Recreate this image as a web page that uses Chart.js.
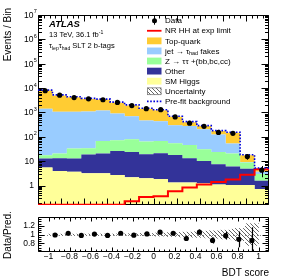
<!DOCTYPE html>
<html>
<head>
<meta charset="utf-8">
<script src="https://cdn.jsdelivr.net/npm/chart.js@4.4.1/dist/chart.umd.min.js"></script>
<style>
  html, body { margin: 0; padding: 0; background: #fff; }
  #wrap { position: relative; width: 291px; height: 279px; overflow: hidden; }
  #mainChart { position: absolute; left: 0; top: 0; }
  #ratioChart { position: absolute; left: 0; top: 209px; }
</style>
</head>
<body>
<div id="wrap">
  <canvas id="mainChart" width="291" height="209"></canvas>
  <canvas id="ratioChart" width="291" height="70"></canvas>
</div>
<script>
// ---- binning (BDT score) ----
const binEdges = [-1, -0.875, -0.75, -0.625, -0.5, -0.375, -0.25, -0.125, 0,
                  0.125, 0.25, 0.375, 0.5, 0.625, 0.75, 0.875, 1];

// ---- background components, events per bin ----
const smHiggs  = [5.5, 4.0, 3.7, 3.2, 3.2, 2.7, 2.2, 2.0, 1.85, 1.35, 1.35, 1.25, 1.1, 1.05, 1.05, 0.72];
const other    = [7.4, 9.2, 9.3, 15.5, 17.8, 23.3, 21.8, 17.4, 19.2, 16.7, 11.9, 9.0, 6.4, 5.0, 3.9, 0.85];
const zttHF    = [4.7, 7.8, 20, 15.3, 46, 46, 55, 44.6, 46, 36, 32.8, 20.7, 16.5, 14.5, 3.9, 1.4];
const jetFakes = [1400, 1040, 1030, 1055, 1130, 840, 630, 405, 373, 246, 231, 172, 102, 33, 0.5, 0.75];
const topQuark = [6480, 3940, 3140, 2510, 2200, 1590, 1240, 950, 790, 370, 123, 74, 47, 94, 8.2, 1.3];

// ---- other main-panel series ----
const dataValues = [7800, 5150, 4100, 3640, 3330, 2580, 1920, 1440, 1300, 660, 365, 270, 152, 140, 15.5, 4.3];
const dataErr    = [88, 72, 64, 60, 58, 51, 44, 38, 36, 26, 19, 16, 12, 12, 3.9, 2.1];
const prefitBkg  = [8300, 5300, 4400, 3800, 3550, 2650, 2050, 1500, 1300, 700, 420, 290, 180, 155, 18.5, 5.3];
// first bins sit below the axis range; the picture shows them on the floor
const hhLimit    = [0.165, 0.165, 0.165, 0.165, 0.165, 0.165, 0.23, 0.34, 0.37, 0.58, 0.84, 1.1, 1.4, 1.8, 2.8, 4.7];

// ---- ratio panel ----
const ratioValues = [0.99, 1.03, 0.98, 1.01, 0.98, 1.03, 0.985, 1.015, 1.055, 1.03, 0.91, 1.055, 0.865, 0.975, 0.89, 0.865];
const ratioErr    = [0.015, 0.015, 0.016, 0.017, 0.018, 0.02, 0.023, 0.027, 0.03, 0.04, 0.05, 0.062, 0.07, 0.09, 0.18, 0.3];
const bkgUnc      = [0.01, 0.01, 0.01, 0.012, 0.012, 0.015, 0.02, 0.025, 0.035, 0.045, 0.055, 0.065, 0.085, 0.1, 0.14, 0.25];
const ratioRef = 1;

// ---- axes ----
const xMin = -1, xMax = 1, xTickStep = 0.2;
const yMin = 0.16, yMax = 1e7;
const yLabelDecades = [0, 1, 2, 3, 4, 5, 6, 7];
const ratioMin = 0.6, ratioMax = 1.4;
const ratioTickLabels = [0.8, 1, 1.2];

const FONT = '"Liberation Sans", Arial, Helvetica, sans-serif';
const colHiggs = '#ffff99', colOther = '#333399', colZtt = '#99ff99', colFakes = '#99ccff', colTop = '#ffcc33';
const colHH = '#ff0000', colPrefit = '#0000dd';

const binCenters = binEdges.slice(0, -1).map((e, i) => (e + binEdges[i + 1]) / 2);

// histogram outline points on the bin edges (drawn stepped)
function histPoints(vals) {
  return binEdges.map((x, i) => ({ x, y: vals[Math.min(i, vals.length - 1)] }));
}

// cumulative stack, bottom first
const stackParts = [smHiggs, other, zttHF, jetFakes, topQuark];
const stackColors = [colHiggs, colOther, colZtt, colFakes, colTop];
let running = new Array(binCenters.length).fill(0);
const stackTops = stackParts.map(part => (running = running.map((r, i) => r + part[i])));
const hhIndex = stackParts.length;

function makeHatch(color) {
  const c = document.createElement('canvas');
  c.width = 4; c.height = 4;
  const g = c.getContext('2d');
  g.strokeStyle = color; g.lineWidth = 0.9;
  g.beginPath();
  g.moveTo(0, 0); g.lineTo(4, 4);
  g.moveTo(-1, 3); g.lineTo(1, 5);
  g.moveTo(3, -1); g.lineTo(5, 1);
  g.stroke();
  return g.createPattern(c, 'repeat');
}
const hatch = makeHatch('#555');

// rich text: parts with optional sub / sup
function drawRich(ctx, parts, x, y, size) {
  let cx = x;
  ctx.textAlign = 'left';
  for (const p of parts) {
    const s = (p.sub || p.sup) ? size * 0.68 : size;
    ctx.font = `${s}px ${FONT}`;
    const dy = p.sub ? size * 0.3 : p.sup ? -size * 0.38 : 0;
    ctx.fillText(p.t, cx, y + dy);
    cx += ctx.measureText(p.t).width;
  }
}

// frame with inward ticks on all four sides (ATLAS style)
function drawFrame(chart, o) {
  const { ctx, chartArea: a, scales: { x, y } } = chart;
  const L = Math.round(a.left) + 0.5, R = Math.round(a.right) - 0.5;
  const T = Math.round(a.top) + 0.5, B = Math.round(a.bottom) - 0.5;
  ctx.save();
  ctx.strokeStyle = '#000';
  ctx.lineWidth = 1;
  ctx.beginPath();
  ctx.rect(L, T, R - L, B - T);
  const nMinor = Math.round((x.max - x.min) / o.xMinor);
  for (let k = 0; k <= nMinor; k++) {
    const v = x.min + k * o.xMinor;
    const px = Math.min(Math.round(x.getPixelForValue(v)) + 0.5, R);
    const major = Math.abs(v / o.xMajor - Math.round(v / o.xMajor)) < 1e-6;
    const len = major ? o.xMajorLen : o.xMinorLen;
    ctx.moveTo(px, B); ctx.lineTo(px, B - len);
    ctx.moveTo(px, T); ctx.lineTo(px, T + len);
  }
  for (const t of o.yTicks(y)) {
    const py = Math.min(Math.round(y.getPixelForValue(t.v)) + 0.5, B);
    const len = t.major ? o.yMajorLen : o.yMinorLen;
    ctx.moveTo(L, py); ctx.lineTo(L + len, py);
    ctx.moveTo(R, py); ctx.lineTo(R - len, py);
  }
  ctx.stroke();
  ctx.restore();
}

function logTicks(y) {
  const out = [];
  for (let d = -1; d <= 7; d++) {
    for (let m = 1; m <= 9; m++) {
      const v = m * Math.pow(10, d);
      if (v >= y.min && v <= y.max * 1.0001) out.push({ v, major: m === 1 });
    }
  }
  return out;
}

function linTicks(step, majorStep) {
  return y => {
    const out = [];
    const n = Math.round((y.max - y.min) / step);
    for (let k = 0; k <= n; k++) {
      const v = y.min + k * step;
      out.push({ v, major: Math.abs(v / majorStep - Math.round(v / majorStep)) < 1e-6 });
    }
    return out;
  };
}

const legendEntries = [
  { kind: 'data', text: [{ t: 'Data' }] },
  { kind: 'line', color: colHH, text: [{ t: 'NR HH at exp limit' }] },
  { kind: 'box', color: colTop, text: [{ t: 'Top-quark' }] },
  { kind: 'box', color: colFakes, text: [{ t: 'jet \u2192 \u03c4' }, { t: 'had', sub: true }, { t: ' fakes' }] },
  { kind: 'box', color: colZtt, text: [{ t: 'Z \u2192 \u03c4\u03c4 +(bb,bc,cc)' }] },
  { kind: 'box', color: colOther, text: [{ t: 'Other' }] },
  { kind: 'box', color: colHiggs, text: [{ t: 'SM Higgs' }] },
  { kind: 'hatch', text: [{ t: 'Uncertainty' }] },
  { kind: 'dash', color: colPrefit, text: [{ t: 'Pre-fit background' }] }
];

const mainDecor = {
  id: 'mainDecor',
  // frame goes on top of the stack but under the line/marker datasets
  beforeDatasetDraw(chart, args) {
    if (args.index !== hhIndex) return;
    drawFrame(chart, {
      xMinor: 0.05, xMajor: xTickStep, xMajorLen: 6, xMinorLen: 3,
      yTicks: logTicks, yMajorLen: 7, yMinorLen: 3.5
    });
  },
  afterDatasetsDraw(chart) {
    const { ctx, scales: { x, y } } = chart;
    ctx.save();
    ctx.strokeStyle = '#000';
    ctx.lineWidth = 1;
    ctx.beginPath();
    binCenters.forEach((c, i) => {
      const px = Math.round(x.getPixelForValue(c)) + 0.5;
      ctx.moveTo(px, y.getPixelForValue(Math.max(dataValues[i] - dataErr[i], y.min)));
      ctx.lineTo(px, y.getPixelForValue(dataValues[i] + dataErr[i]));
    });
    ctx.stroke();
    ctx.restore();
  },
  afterDraw(chart) {
    const { ctx, scales: { y } } = chart;
    ctx.save();
    ctx.fillStyle = '#000';
    ctx.textBaseline = 'middle';

    // y tick labels: 1, 10, 10^2 ... 10^7
    for (const d of yLabelDecades) {
      const py = y.getPixelForValue(Math.pow(10, d)) + 0.5;
      if (d < 2) {
        ctx.font = `8.5px ${FONT}`;
        ctx.textAlign = 'right';
        ctx.fillText(d === 0 ? '1' : '10', 34, py);
      } else {
        ctx.font = `8.5px ${FONT}`;
        ctx.textAlign = 'right';
        ctx.fillText('10', 33.5, py);
        ctx.font = `5.5px ${FONT}`;
        ctx.textAlign = 'left';
        ctx.fillText(String(d), 33.8, py - 3.6);
      }
    }

    // y axis title
    ctx.save();
    ctx.translate(8.5, 8);
    ctx.rotate(-Math.PI / 2);
    ctx.font = `10px ${FONT}`;
    ctx.textAlign = 'right';
    ctx.fillText('Events / Bin', 0, 0);
    ctx.restore();

    // ATLAS label block
    ctx.textBaseline = 'alphabetic';
    ctx.textAlign = 'left';
    ctx.font = `italic bold 9.5px ${FONT}`;
    ctx.fillText('ATLAS', 49, 27.3);
    drawRich(ctx, [{ t: '13 TeV, 36.1 fb' }, { t: '-1', sup: true }], 49, 37.3, 7.5);
    drawRich(ctx, [{ t: '\u03c4' }, { t: 'lep', sub: true }, { t: '\u03c4' }, { t: 'had', sub: true },
                   { t: ' SLT 2 b-tags' }], 49, 48, 7.5);

    // legend
    const lx0 = 147, lx1 = 161.5, tx = 165;
    legendEntries.forEach((e, i) => {
      const ly = 20.7 + i * 10.08;
      ctx.save();
      if (e.kind === 'data') {
        ctx.strokeStyle = '#000'; ctx.lineWidth = 1;
        ctx.beginPath(); ctx.moveTo(154.5, ly - 4); ctx.lineTo(154.5, ly + 4); ctx.stroke();
        ctx.fillStyle = '#000';
        ctx.beginPath(); ctx.arc(154.5, ly, 2.5, 0, Math.PI * 2); ctx.fill();
      } else if (e.kind === 'line') {
        ctx.strokeStyle = e.color; ctx.lineWidth = 1.8;
        ctx.beginPath(); ctx.moveTo(lx0, ly); ctx.lineTo(lx1, ly); ctx.stroke();
      } else if (e.kind === 'box') {
        ctx.fillStyle = e.color;
        ctx.fillRect(lx0, ly - 3.4, lx1 - lx0, 6.8);
      } else if (e.kind === 'hatch') {
        ctx.fillStyle = hatch;
        ctx.fillRect(lx0, ly - 3.4, lx1 - lx0, 6.8);
        ctx.strokeStyle = '#777'; ctx.lineWidth = 0.8;
        ctx.strokeRect(lx0 + 0.5, ly - 3.4, lx1 - lx0 - 1, 6.8);
      } else if (e.kind === 'dash') {
        ctx.strokeStyle = e.color; ctx.lineWidth = 1.6; ctx.setLineDash([1.6, 1.6]);
        ctx.beginPath(); ctx.moveTo(lx0, ly); ctx.lineTo(lx1, ly); ctx.stroke();
      }
      ctx.restore();
      ctx.fillStyle = '#000';
      ctx.textBaseline = 'middle';
      drawRich(ctx, e.text, tx, ly + 0.5, 8);
    });
    ctx.restore();
  }
};

const stackDatasets = stackTops.map((top, k) => ({
  data: histPoints(top),
  stepped: 'before',
  fill: k === 0 ? 'start' : '-1',
  backgroundColor: stackColors[k],
  borderColor: 'rgba(0,0,0,0)',
  borderWidth: 0,
  pointRadius: 0,
  order: 10
}));

new Chart(document.getElementById('mainChart'), {
  type: 'line',
  data: {
    datasets: [
      ...stackDatasets,
      { data: histPoints(hhLimit), stepped: 'before', fill: false, borderColor: colHH, borderWidth: 2,
        pointRadius: 0, order: 2 },
      { data: histPoints(prefitBkg), stepped: 'before', fill: false, borderColor: colPrefit, borderWidth: 1.6,
        borderDash: [1.6, 1.6], pointRadius: 0, order: 1 },
      { data: binCenters.map((c, i) => ({ x: c, y: dataValues[i] })), showLine: false, fill: false,
        pointRadius: 2.6, pointBackgroundColor: '#000', pointBorderWidth: 0, order: 0 }
    ]
  },
  options: {
    responsive: false,
    animation: false,
    events: [],
    layout: { padding: { left: 0, right: 22, top: 15, bottom: 0 } },
    plugins: { legend: { display: false }, tooltip: { enabled: false } },
    scales: {
      x: { type: 'linear', min: xMin, max: xMax, ticks: { display: false },
           grid: { display: false, drawTicks: false }, border: { display: false },
           afterFit: s => { s.height = 3; } },
      y: { type: 'logarithmic', min: yMin, max: yMax, ticks: { display: false },
           grid: { display: false, drawTicks: false }, border: { display: false },
           afterFit: s => { s.width = 38; } }
    }
  },
  plugins: [mainDecor]
});

// ---- ratio panel ----
const ratioDecor = {
  id: 'ratioDecor',
  beforeDatasetsDraw(chart) {
    const { ctx, chartArea: a, scales: { y } } = chart;
    const py = Math.round(y.getPixelForValue(ratioRef)) + 0.5;
    ctx.save();
    ctx.strokeStyle = '#888';
    ctx.lineWidth = 1;
    ctx.setLineDash([1, 2]);
    ctx.beginPath(); ctx.moveTo(a.left, py); ctx.lineTo(a.right, py); ctx.stroke();
    ctx.restore();
  },
  afterDatasetsDraw(chart) {
    const { ctx, chartArea: a, scales: { x, y } } = chart;
    ctx.save();
    ctx.beginPath();
    ctx.rect(a.left, a.top, a.right - a.left, a.bottom - a.top);
    ctx.clip();
    ctx.strokeStyle = '#000';
    ctx.lineWidth = 1.2;
    ctx.beginPath();
    binCenters.forEach((c, i) => {
      const px = Math.round(x.getPixelForValue(c)) + 0.5;
      ctx.moveTo(px, y.getPixelForValue(ratioValues[i] - ratioErr[i]));
      ctx.lineTo(px, y.getPixelForValue(ratioValues[i] + ratioErr[i]));
    });
    ctx.stroke();
    ctx.restore();
  },
  afterDraw(chart) {
    const { ctx } = chart;
    drawFrame(chart, {
      xMinor: 0.05, xMajor: xTickStep, xMajorLen: 4, xMinorLen: 2,
      yTicks: linTicks(0.05, 0.2), yMajorLen: 6, yMinorLen: 3
    });
    ctx.save();
    ctx.fillStyle = '#000';
    ctx.translate(8.5, 26);
    ctx.rotate(-Math.PI / 2);
    ctx.font = `10px ${FONT}`;
    ctx.textAlign = 'center';
    ctx.textBaseline = 'middle';
    ctx.fillText('Data/Pred.', 0, 0);
    ctx.restore();
  }
};

function fmtX(v) {
  const r = Math.round(v * 10) / 10;
  if (r === 0) return '0';
  return String(r).replace('-', '\u2212');
}

new Chart(document.getElementById('ratioChart'), {
  type: 'line',
  data: {
    datasets: [
      { type: 'bar', data: binCenters.map((c, i) => ({ x: c, y: [ratioRef - bkgUnc[i], ratioRef + bkgUnc[i]] })),
        backgroundColor: hatch, borderWidth: 0, barPercentage: 1, categoryPercentage: 1, grouped: false, order: 5 },
      { data: binCenters.map((c, i) => ({ x: c, y: ratioValues[i] })), showLine: false, fill: false,
        pointRadius: 2.6, pointBackgroundColor: '#000', pointBorderWidth: 0, order: 0 }
    ]
  },
  options: {
    responsive: false,
    animation: false,
    events: [],
    layout: { padding: { left: 0, right: 22, top: 3, bottom: 0 } },
    plugins: { legend: { display: false }, tooltip: { enabled: false } },
    scales: {
      x: { type: 'linear', min: xMin, max: xMax,
           ticks: { stepSize: xTickStep, autoSkip: false, maxRotation: 0, padding: 0, color: '#000',
                    font: { family: FONT, size: 8.5 }, callback: v => fmtX(v) },
           grid: { display: false, drawTicks: false }, border: { display: false },
           title: { display: true, text: 'BDT score', align: 'end', color: '#000', padding: 0,
                    font: { family: FONT, size: 10 } },
           afterFit: s => { s.height = 27; } },
      y: { type: 'linear', min: ratioMin, max: ratioMax,
           ticks: { stepSize: 0.2, autoSkip: false, padding: 3, color: '#000', font: { family: FONT, size: 8.5 },
                    callback: v => ratioTickLabels.some(t => Math.abs(t - v) < 1e-6) ? String(Math.round(v * 10) / 10) : '' },
           grid: { display: false, drawTicks: false }, border: { display: false },
           afterFit: s => { s.width = 38; } }
    }
  },
  plugins: [ratioDecor]
});
</script>
</body>
</html>
